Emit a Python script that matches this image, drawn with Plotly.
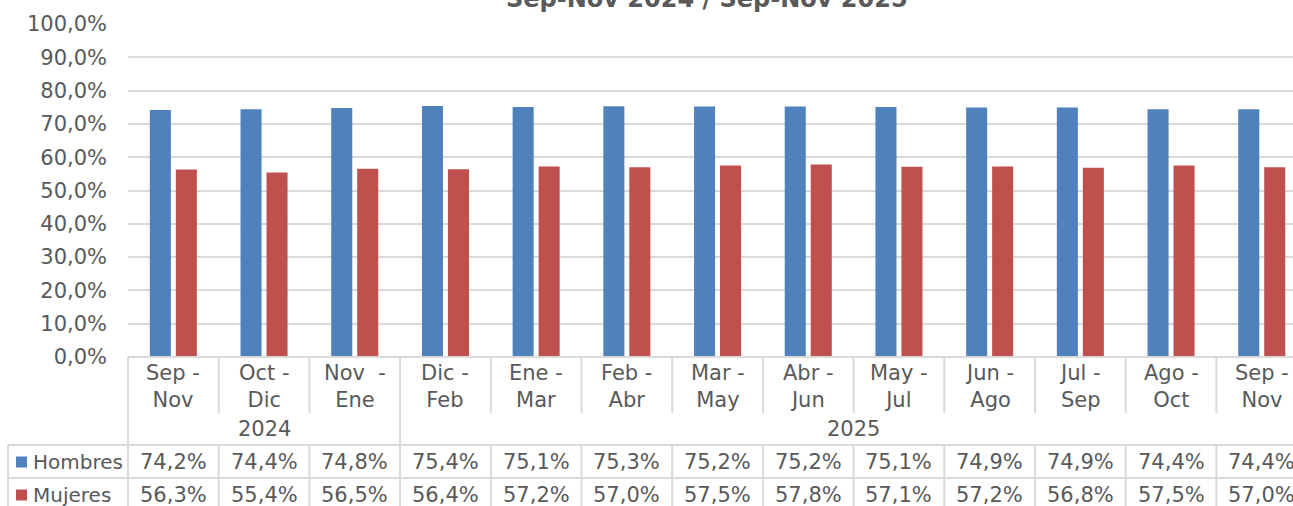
import plotly.graph_objects as go

# ---------------- data ----------------
periods = ["Sep -<br>Nov", "Oct -<br>Dic", "Nov  -<br>Ene", "Dic -<br>Feb", "Ene -<br>Mar",
           "Feb -<br>Abr", "Mar -<br>May", "Abr -<br>Jun", "May -<br>Jul", "Jun -<br>Ago",
           "Jul -<br>Sep", "Ago -<br>Oct", "Sep -<br>Nov"]
years = ["2024", "2025"]
year_counts = [3, 10]
hombres = [74.2, 74.4, 74.8, 75.4, 75.1, 75.3, 75.2, 75.2, 75.1, 74.9, 74.9, 74.4, 74.4]
mujeres = [56.3, 55.4, 56.5, 56.4, 57.2, 57.0, 57.5, 57.8, 57.1, 57.2, 56.8, 57.5, 57.0]
series_names = ["Hombres", "Mujeres"]
colors = ["#4F81BD", "#C0504D"]
title = "Sep-Nov 2024 / Sep-Nov 2025"

# ---------------- layout constants ----------------
W, H = 1293, 506
ML, MR, MT, MB = 128, 0, 24, 149
PW = W - ML - MR
PH = H - MT - MB
FONT = "DejaVu Sans"
TXT = "#595959"
GRID = "#d9d9d9"
FS = 21
n = len(periods)
cat_w = 90.7
x_max = -0.5 + PW / cat_w


def py(px):
    """pixel y -> paper y"""
    return (H - MB - px) / PH


def pxx(px):
    """pixel x -> paper x"""
    return (px - ML) / PW


xs = list(range(n))
fig = go.Figure()
for name, vals, col in zip(series_names, [hombres, mujeres], colors):
    fig.add_trace(go.Bar(x=xs, y=[v / 100 for v in vals], name=name,
                         marker=dict(color=col, line=dict(width=0)), showlegend=False,
                         hoverinfo="skip"))

annotations = []
shapes = []

# title (cut at top like reference)
annotations.append(dict(text="<b>" + title + "</b>", xref="paper", yref="paper",
                        x=pxx(707), y=py(15), xanchor="center", yanchor="bottom",
                        showarrow=False, font=dict(family=FONT, size=24, color=TXT)))

# category labels
for i, p in enumerate(periods):
    annotations.append(dict(text=p, xref="x", yref="paper", x=i, y=py(386),
                            xanchor="center", yanchor="middle", showarrow=False,
                            font=dict(family=FONT, size=FS, color=TXT)))

# year labels
start = 0
for yr, cnt in zip(years, year_counts):
    annotations.append(dict(text=yr, xref="x", yref="paper", x=start + (cnt - 1) / 2,
                            y=py(429), xanchor="center", yanchor="middle", showarrow=False,
                            font=dict(family=FONT, size=FS, color=TXT)))
    start += cnt

# data table values
row_y = [462, 495]
for vals, ry in zip([hombres, mujeres], row_y):
    for i, v in enumerate(vals):
        annotations.append(dict(text=f"{v:.1f}%".replace(".", ","), xref="x", yref="paper",
                                x=i, y=py(ry), xanchor="center", yanchor="middle",
                                showarrow=False, font=dict(family=FONT, size=FS, color=TXT)))

# legend keys in table
for name, col, ry in zip(series_names, colors, row_y):
    shapes.append(dict(type="rect", xref="paper", yref="paper",
                       x0=pxx(16), x1=pxx(27), y0=py(ry - 5.5), y1=py(ry + 5.5),
                       fillcolor=col, line=dict(width=0)))
    annotations.append(dict(text=name, xref="paper", yref="paper", x=pxx(31), y=py(ry),
                            xanchor="left", yanchor="middle", showarrow=False,
                            font=dict(family=FONT, size=20, color=TXT)))

LW = 2
# horizontal table lines
shapes.append(dict(type="line", xref="paper", yref="paper", x0=0, x1=1, y0=0, y1=0,
                   line=dict(color=GRID, width=LW)))
for yy in [445, 478]:
    shapes.append(dict(type="line", xref="paper", yref="paper", x0=pxx(8), x1=1,
                       y0=py(yy), y1=py(yy), line=dict(color=GRID, width=LW)))
# left border of legend column
shapes.append(dict(type="line", xref="paper", yref="paper", x0=pxx(8), x1=pxx(8),
                   y0=py(445), y1=py(520), line=dict(color=GRID, width=LW)))
# left border of plot table
shapes.append(dict(type="line", xref="paper", yref="paper", x0=0, x1=0,
                   y0=0, y1=py(520), line=dict(color=GRID, width=LW)))
# category separators
year_bounds = []
acc = 0
for cnt in year_counts[:-1]:
    acc += cnt
    year_bounds.append(acc)
for i in range(1, n):
    xb = i - 0.5
    if i in year_bounds:
        shapes.append(dict(type="line", xref="x", yref="paper", x0=xb, x1=xb,
                           y0=0, y1=py(520), line=dict(color=GRID, width=LW)))
    else:
        shapes.append(dict(type="line", xref="x", yref="paper", x0=xb, x1=xb,
                           y0=0, y1=py(413), line=dict(color=GRID, width=LW)))
        shapes.append(dict(type="line", xref="x", yref="paper", x0=xb, x1=xb,
                           y0=py(445), y1=py(520), line=dict(color=GRID, width=LW)))

fig.update_layout(
    width=W, height=H,
    margin=dict(l=ML, r=MR, t=MT, b=MB, pad=0),
    paper_bgcolor="white", plot_bgcolor="white",
    barmode="group", bargap=0.427, bargroupgap=0.19,
    separators=",.",
    hovermode=False,
    font=dict(family=FONT, size=FS, color=TXT),
    xaxis=dict(range=[-0.5, x_max], showticklabels=False, showgrid=False,
               zeroline=False, showline=False, ticks="", fixedrange=True),
    yaxis=dict(range=[0, 1], tickvals=[i / 10 for i in range(11)], tickformat=".1%",
               showgrid=True, gridcolor=GRID, gridwidth=LW, zeroline=False,
               showline=False, ticks="", ticklabelstandoff=20,
               tickfont=dict(family=FONT, size=FS, color=TXT), fixedrange=True),
    annotations=annotations,
    shapes=shapes,
)

fig.write_html("out.html", config={"displayModeBar": False},
               post_script="document.body.style.margin='0px';document.body.style.overflow='hidden';")
